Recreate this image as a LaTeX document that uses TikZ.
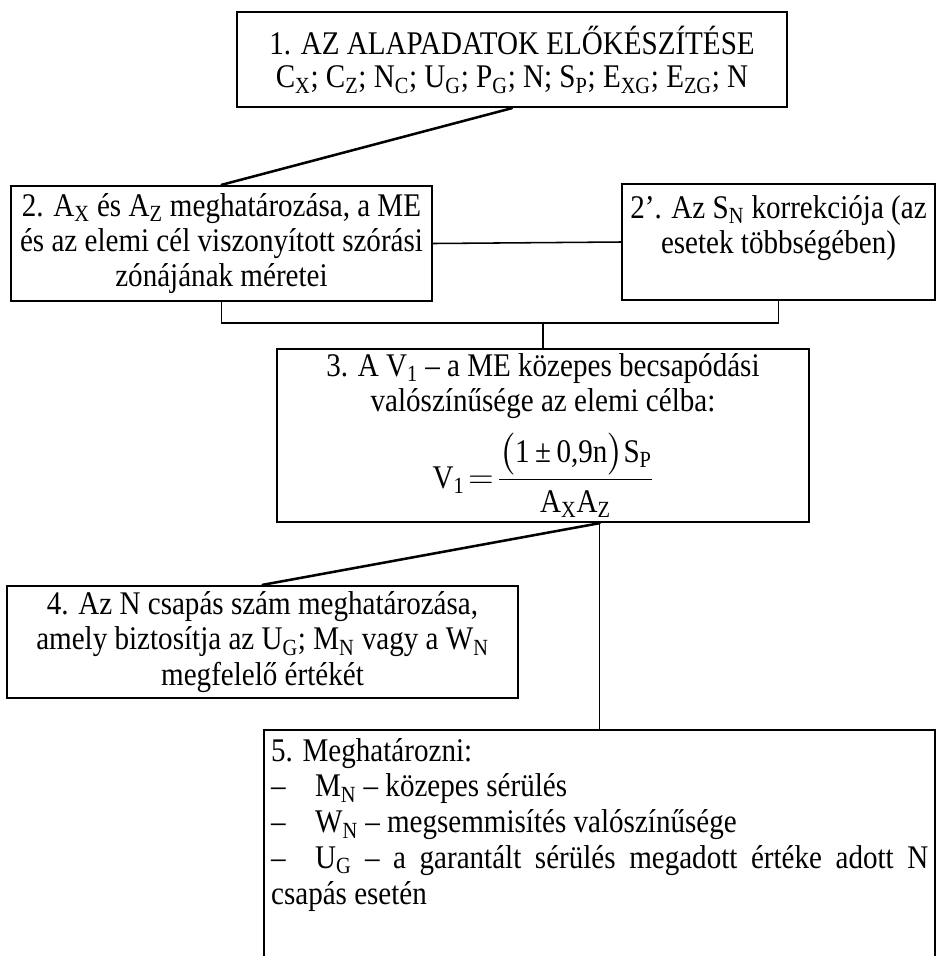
\documentclass[tikz,border=0pt]{standalone}
\usepackage{amsmath}
\usepackage{fontspec}
\setmainfont{Liberation Serif}[FakeStretch=0.88]
\newcommand{\ix}[1]{\textsubscript{#1}}

\begin{document}
\begin{tikzpicture}[x=0.025cm,y=-0.025cm,line cap=round,
  box/.style={draw,line width=1.6pt,inner sep=0pt,align=center,font=\fontsize{23.5pt}{24pt}\selectfont},
  link/.style={line width=1.1pt},
  slant/.style={line width=1.8pt}]
\useasboundingbox (0,0) rectangle (937,956);
\node[box,minimum width=13.75cm,minimum height=2.375cm] (b1) at (512,59.5)
  {1. AZ ALAPADATOK ELŐKÉSZÍTÉSE\\
   C\ix{X}; C\ix{Z}; N\ix{C}; U\ix{G}; P\ix{G}; N; S\ix{P}; E\ix{XG}; E\ix{ZG}; N};
\node[box,minimum width=10.525cm,minimum height=2.875cm,font=\fontsize{23.5pt}{25pt}\selectfont] (b2) at (221.5,243.5)
  {2. A\ix{X} és A\ix{Z} meghatározása, a ME\\
   és az elemi cél viszonyított szórási\\
   zónájának méretei};
\node[box,minimum width=7.825cm,minimum height=2.9cm,font=\fontsize{23.5pt}{25pt}\selectfont] (b2p) at (778.5,242)
  {2'. Az S\ix{N} korrekciója (az\\
   esetek többségében)\\ \mbox{}};
\node[box,minimum width=13.3cm,minimum height=4.325cm,font=\fontsize{23.5pt}{25pt}\selectfont] (b3) at (543,435.5)
  {3. A V\ix{1} – a ME közepes becsapódási\\
   valószínűsége az elemi célba:\\[9pt]
   $\text{V}_{\text{1}}\!=\!\dfrac{\bigl(\text{1\,±\,0,9n}\bigr)\text{S}_{\text{P}}}{\text{A}_{\text{X}}\text{A}_{\text{Z}}}$};
\node[box,minimum width=12.775cm,minimum height=2.8cm,font=\fontsize{23.5pt}{25pt}\selectfont] (b4) at (262.5,642)
  {4. Az N csapás szám meghatározása,\\
   amely biztosítja az U\ix{G}; M\ix{N} vagy a W\ix{N}\\
   megfelelő értékét};
\node[draw,line width=1.6pt,anchor=north west,text width=16.425cm,inner xsep=0.175cm,inner ysep=0.2cm,
  align=justify,font=\fontsize{23.5pt}{25.5pt}\selectfont] (b5) at (263,729)
  {5. Meghatározni:\\
   \makebox[1.1cm][l]{–}M\ix{N} – közepes sérülés\\
   \makebox[1.1cm][l]{–}W\ix{N} – megsemmisítés valószínűsége\\
   \makebox[1.1cm][l]{–}U\ix{G} – a garantált sérülés megadott értéke adott N\linebreak
   csapás esetén\\[2cm]\mbox{}};
\draw[slant] (b1.south) -- (b2.north);
\draw[link] (b2.east) -- (b2p.west);
\draw[link] (b3.north) -- ++(0,-25) coordinate (join);
\draw[link] (b2.south) |- (join) -| (b2p.south);
\coordinate (split) at (b5.north |- b3.south);
\draw[slant] (split) -- (b4.north);
\draw[link] (split) -- (b5.north);
\end{tikzpicture}
\end{document}
